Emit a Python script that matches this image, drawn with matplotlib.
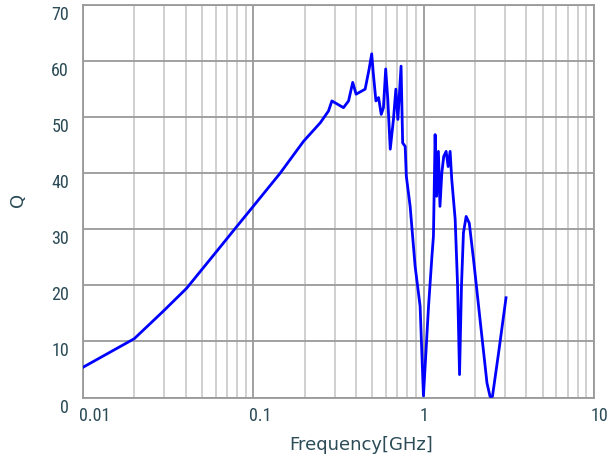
import numpy as np
import matplotlib
matplotlib.use('Agg')
import matplotlib.pyplot as plt
import matplotlib.transforms as mtransforms
from matplotlib import font_manager as fm

# 周波数[GHz] と Q 値
freq = [0.01, 0.02, 0.0296, 0.0406, 0.061, 0.0799, 0.098, 0.1435, 0.197, 0.247,
        0.276, 0.289, 0.338, 0.362, 0.383, 0.401, 0.453, 0.478, 0.495, 0.505,
        0.524, 0.543, 0.563, 0.58, 0.598, 0.615, 0.636, 0.664, 0.686, 0.705,
        0.736, 0.752, 0.778, 0.79, 0.832, 0.890, 0.952, 0.996, 1.067, 1.117,
        1.14, 1.166, 1.19, 1.219, 1.245, 1.277, 1.31, 1.353, 1.39, 1.428,
        1.46, 1.529, 1.58, 1.622, 1.665, 1.71, 1.774, 1.85, 1.96, 2.14,
        2.35, 2.45, 2.53, 2.75, 3.04]
q = [5.4, 10.5, 15.4, 19.5, 26.1, 30.5, 33.8, 40.0, 45.7, 49.0,
     51.1, 52.9, 51.7, 52.9, 56.2, 54.1, 55.0, 58.6, 61.3, 58.0,
     52.9, 53.5, 50.5, 51.7, 58.6, 53.2, 44.3, 49.6, 55.0, 49.6,
     59.1, 45.4, 44.8, 39.5, 34.1, 23.4, 16.3, 0.3, 16.3, 25.2,
     28.8, 46.9, 35.9, 43.9, 34.1, 40.1, 43.0, 43.9, 41.2, 43.9,
     38.9, 31.8, 19.9, 4.1, 19.9, 29.4, 32.3, 31.1, 24.6, 13.9,
     2.6, 0.2, 0.2, 8.0, 17.8]

xticks = [0.01, 0.1, 1, 10]
xticklabels = ['0.01', '0.1', '1', '10']
yticks = [0, 10, 20, 30, 40, 50, 60, 70]

txt_color = '#2b4b57'

# 細い数字フォント（あれば）
names = set(f.name for f in fm.fontManager.ttflist)
narrow = [n for n in ['Liberation Sans Narrow', 'DejaVu Sans Condensed', 'Roboto Condensed',
                      'Open Sans Condensed', 'Noto Sans Condensed'] if n in names]
tick_prop = fm.FontProperties(family=narrow + ['DejaVu Sans'], stretch='condensed', size=13)

fig = plt.figure(figsize=(6.1, 4.64), dpi=100)
ax = fig.add_axes([0.136, 0.141, 0.838, 0.846])

ax.plot(freq, q, color='#0000ff', lw=2.0, zorder=3)

ax.set_xscale('log')
ax.set_xlim(0.01, 10)
ax.set_ylim(0, 70)

ax.set_xticks(xticks)
ax.set_xticklabels(xticklabels)
ax.set_yticks(yticks)
ax.xaxis.set_minor_locator(matplotlib.ticker.LogLocator(base=10, subs=np.arange(2, 10)))
ax.xaxis.set_minor_formatter(matplotlib.ticker.NullFormatter())

# グリッド
ax.grid(which='major', color='#9a9a9a', lw=1.3)
ax.grid(which='minor', axis='x', color='#cdcdcd', lw=1.3)
ax.set_axisbelow(True)
for s in ax.spines.values():
    s.set_color('#9a9a9a')
    s.set_linewidth(1.3)

ax.tick_params(which='both', length=0)
ax.tick_params(axis='x', pad=6)
ax.tick_params(axis='y', pad=10)

for lab in ax.get_xticklabels():
    lab.set_fontproperties(tick_prop)
    lab.set_color(txt_color)
    lab.set_horizontalalignment('left')
    lab.set_transform(lab.get_transform() + mtransforms.ScaledTranslation(-4 / 100, 0, fig.dpi_scale_trans))
for lab in ax.get_yticklabels():
    lab.set_fontproperties(tick_prop)
    lab.set_color(txt_color)
    lab.set_verticalalignment('top')

ax.set_xlabel('Frequency[GHz]', fontsize=13, color=txt_color)
ax.xaxis.set_label_coords(0.544, -0.118)
ax.xaxis.label.set_verticalalignment('center')
ax.set_ylabel('Q', fontsize=13, color=txt_color)
ax.yaxis.set_label_coords(-0.127, 0.506)
ax.yaxis.label.set_verticalalignment('center')

plt.savefig('out.png', dpi=100)
